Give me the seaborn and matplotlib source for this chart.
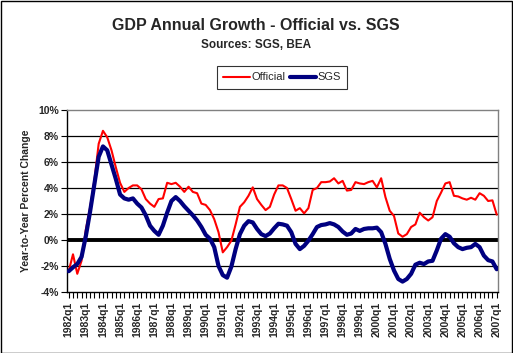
import matplotlib
matplotlib.use("Agg")
import matplotlib.pyplot as plt
import seaborn as sns
import pandas as pd
import numpy as np
from matplotlib.lines import Line2D

sns.set_theme(style="white")
plt.rcParams['font.family'] = ['Liberation Sans', 'DejaVu Sans']

years = list(range(1982, 2008))
quarters = [f"{y}q{q}" for y in range(1982, 2008) for q in range(1, 5)][:101]
tick_labels = [f"{y}q1" for y in years]

official = [-2.4, -1.1, -2.6, -1.6, 0.8, 2.5, 4.6, 7.4, 8.4, 7.9, 6.9, 5.6, 4.4, 3.7, 4.0, 4.2,
            4.2, 3.9, 3.15, 2.8, 2.55, 3.15, 3.2, 4.4, 4.3, 4.4, 4.1, 3.7, 4.1, 3.7, 3.6, 2.8,
            2.7, 2.3, 1.6, 0.6, -0.95, -0.55, -0.05, 1.2, 2.55, 2.9, 3.4, 4.05, 3.15, 2.7, 2.3, 2.55,
            3.5, 4.2, 4.2, 4.0, 3.15, 2.25, 2.45, 2.05, 2.45, 3.85, 4.0, 4.45, 4.45, 4.5, 4.75, 4.35,
            4.55, 3.8, 3.85, 4.45, 4.35, 4.3, 4.45, 4.55, 4.05, 4.75, 3.3, 2.25, 1.85, 0.5, 0.25, 0.45,
            1.0, 1.2, 2.1, 1.75, 1.5, 1.75, 3.0, 3.65, 4.35, 4.45, 3.4, 3.35, 3.2, 3.1, 3.25, 3.1,
            3.6, 3.4, 3.0, 3.05, 1.95]
sgs = [-2.4, -2.1, -1.85, -1.3, 0.3, 2.2, 4.3, 6.4, 7.2, 6.9, 5.8, 4.7, 3.5, 3.2, 3.1, 3.2,
       2.8, 2.5, 1.9, 1.1, 0.7, 0.4, 1.1, 2.1, 3.0, 3.3, 3.0, 2.6, 2.25, 1.9, 1.5, 1.0,
       0.4, 0.1, -0.55, -2.0, -2.7, -2.9, -2.05, -0.7, 0.45, 1.1, 1.45, 1.35, 0.85, 0.45, 0.3, 0.5,
       0.9, 1.25, 1.2, 1.1, 0.6, -0.3, -0.7, -0.45, -0.05, 0.45, 1.0, 1.15, 1.2, 1.3, 1.2, 1.0,
       0.65, 0.4, 0.5, 0.85, 0.7, 0.85, 0.9, 0.9, 0.95, 0.6, -0.3, -1.45, -2.35, -3.0, -3.2, -3.0,
       -2.6, -1.9, -1.75, -1.85, -1.65, -1.6, -0.8, 0.1, 0.45, 0.25, -0.25, -0.55, -0.7, -0.6, -0.55, -0.3,
       -0.55, -1.2, -1.55, -1.65, -2.25]

df = pd.DataFrame({"idx": np.arange(len(official)), "quarter": quarters,
                   "Official": official, "SGS": sgs})

W, H = 513, 353
fig = plt.figure(figsize=(W / 100, H / 100), dpi=100)
fig.patch.set_facecolor("white")
ax = fig.add_axes([67 / W, 1 - 292 / H, (498 - 67) / W, (292 - 110) / H])

for yv in [-2, 2, 4, 6, 8]:
    ax.axhline(yv, color="black", lw=0.9, zorder=1)
ax.axhline(0, color="black", lw=2.8, zorder=2)

sns.lineplot(data=df, x="idx", y="Official", ax=ax, color="#ff0000", lw=1.5, zorder=3)
sns.lineplot(data=df, x="idx", y="SGS", ax=ax, color="#000080", lw=3.0, zorder=4)

ax.set_xlim(-0.4, 100.3)
ax.set_ylim(-4, 10)
ax.set_yticks(np.arange(-4, 11, 2))
ax.set_yticklabels([f"{v}%" for v in range(-4, 11, 2)], fontsize=7.5, fontweight="bold")
ax.set_xticks(np.arange(0, 101, 4))
ax.set_xticklabels(tick_labels, rotation=90, fontsize=7.5, fontweight="bold")
ax.set_xticks(np.arange(0, 101, 1), minor=True)
ax.tick_params(axis="x", which="both", direction="out", length=4, width=0.8, color="black", pad=3, bottom=True)
ax.tick_params(axis="y", which="major", direction="out", length=4, width=0.8, color="black", pad=2, left=True)
ax.set_xlabel("")
ax.set_ylabel("Year-to-Year Percent Change", fontsize=7.5, fontweight="bold", labelpad=5)
for s in ["top", "right"]:
    ax.spines[s].set_color("#808080")
    ax.spines[s].set_linewidth(1.0)
for s in ["left", "bottom"]:
    ax.spines[s].set_color("black")
    ax.spines[s].set_linewidth(1.0)

fig.text(256 / W, 1 - 26 / H, "GDP Annual Growth - Official vs. SGS", ha="center", va="center",
         fontsize=11.5, fontweight="bold")
fig.text(256 / W, 1 - 45 / H, "Sources: SGS, BEA", ha="center", va="center",
         fontsize=8.5, fontweight="bold")

handles = [Line2D([], [], color="#ff0000", lw=1.5), Line2D([], [], color="#000080", lw=3.0)]
leg = fig.legend(handles, ["Official", "SGS"], loc="center", bbox_to_anchor=(282 / W, 1 - 77.5 / H),
                 ncol=2, frameon=True, fancybox=False, fontsize=8, handlelength=2.4,
                 handletextpad=0.1, columnspacing=0.4, borderpad=0.55, borderaxespad=0)
leg.get_frame().set_edgecolor("black")
leg.get_frame().set_linewidth(0.8)

fig.add_artist(plt.Rectangle((0.5 / W, 0.5 / H), 1 - 1.5 / W, 1 - 1.5 / H, transform=fig.transFigure,
                             fill=False, edgecolor="black", lw=1.0))

fig.savefig("out.png", dpi=100)
